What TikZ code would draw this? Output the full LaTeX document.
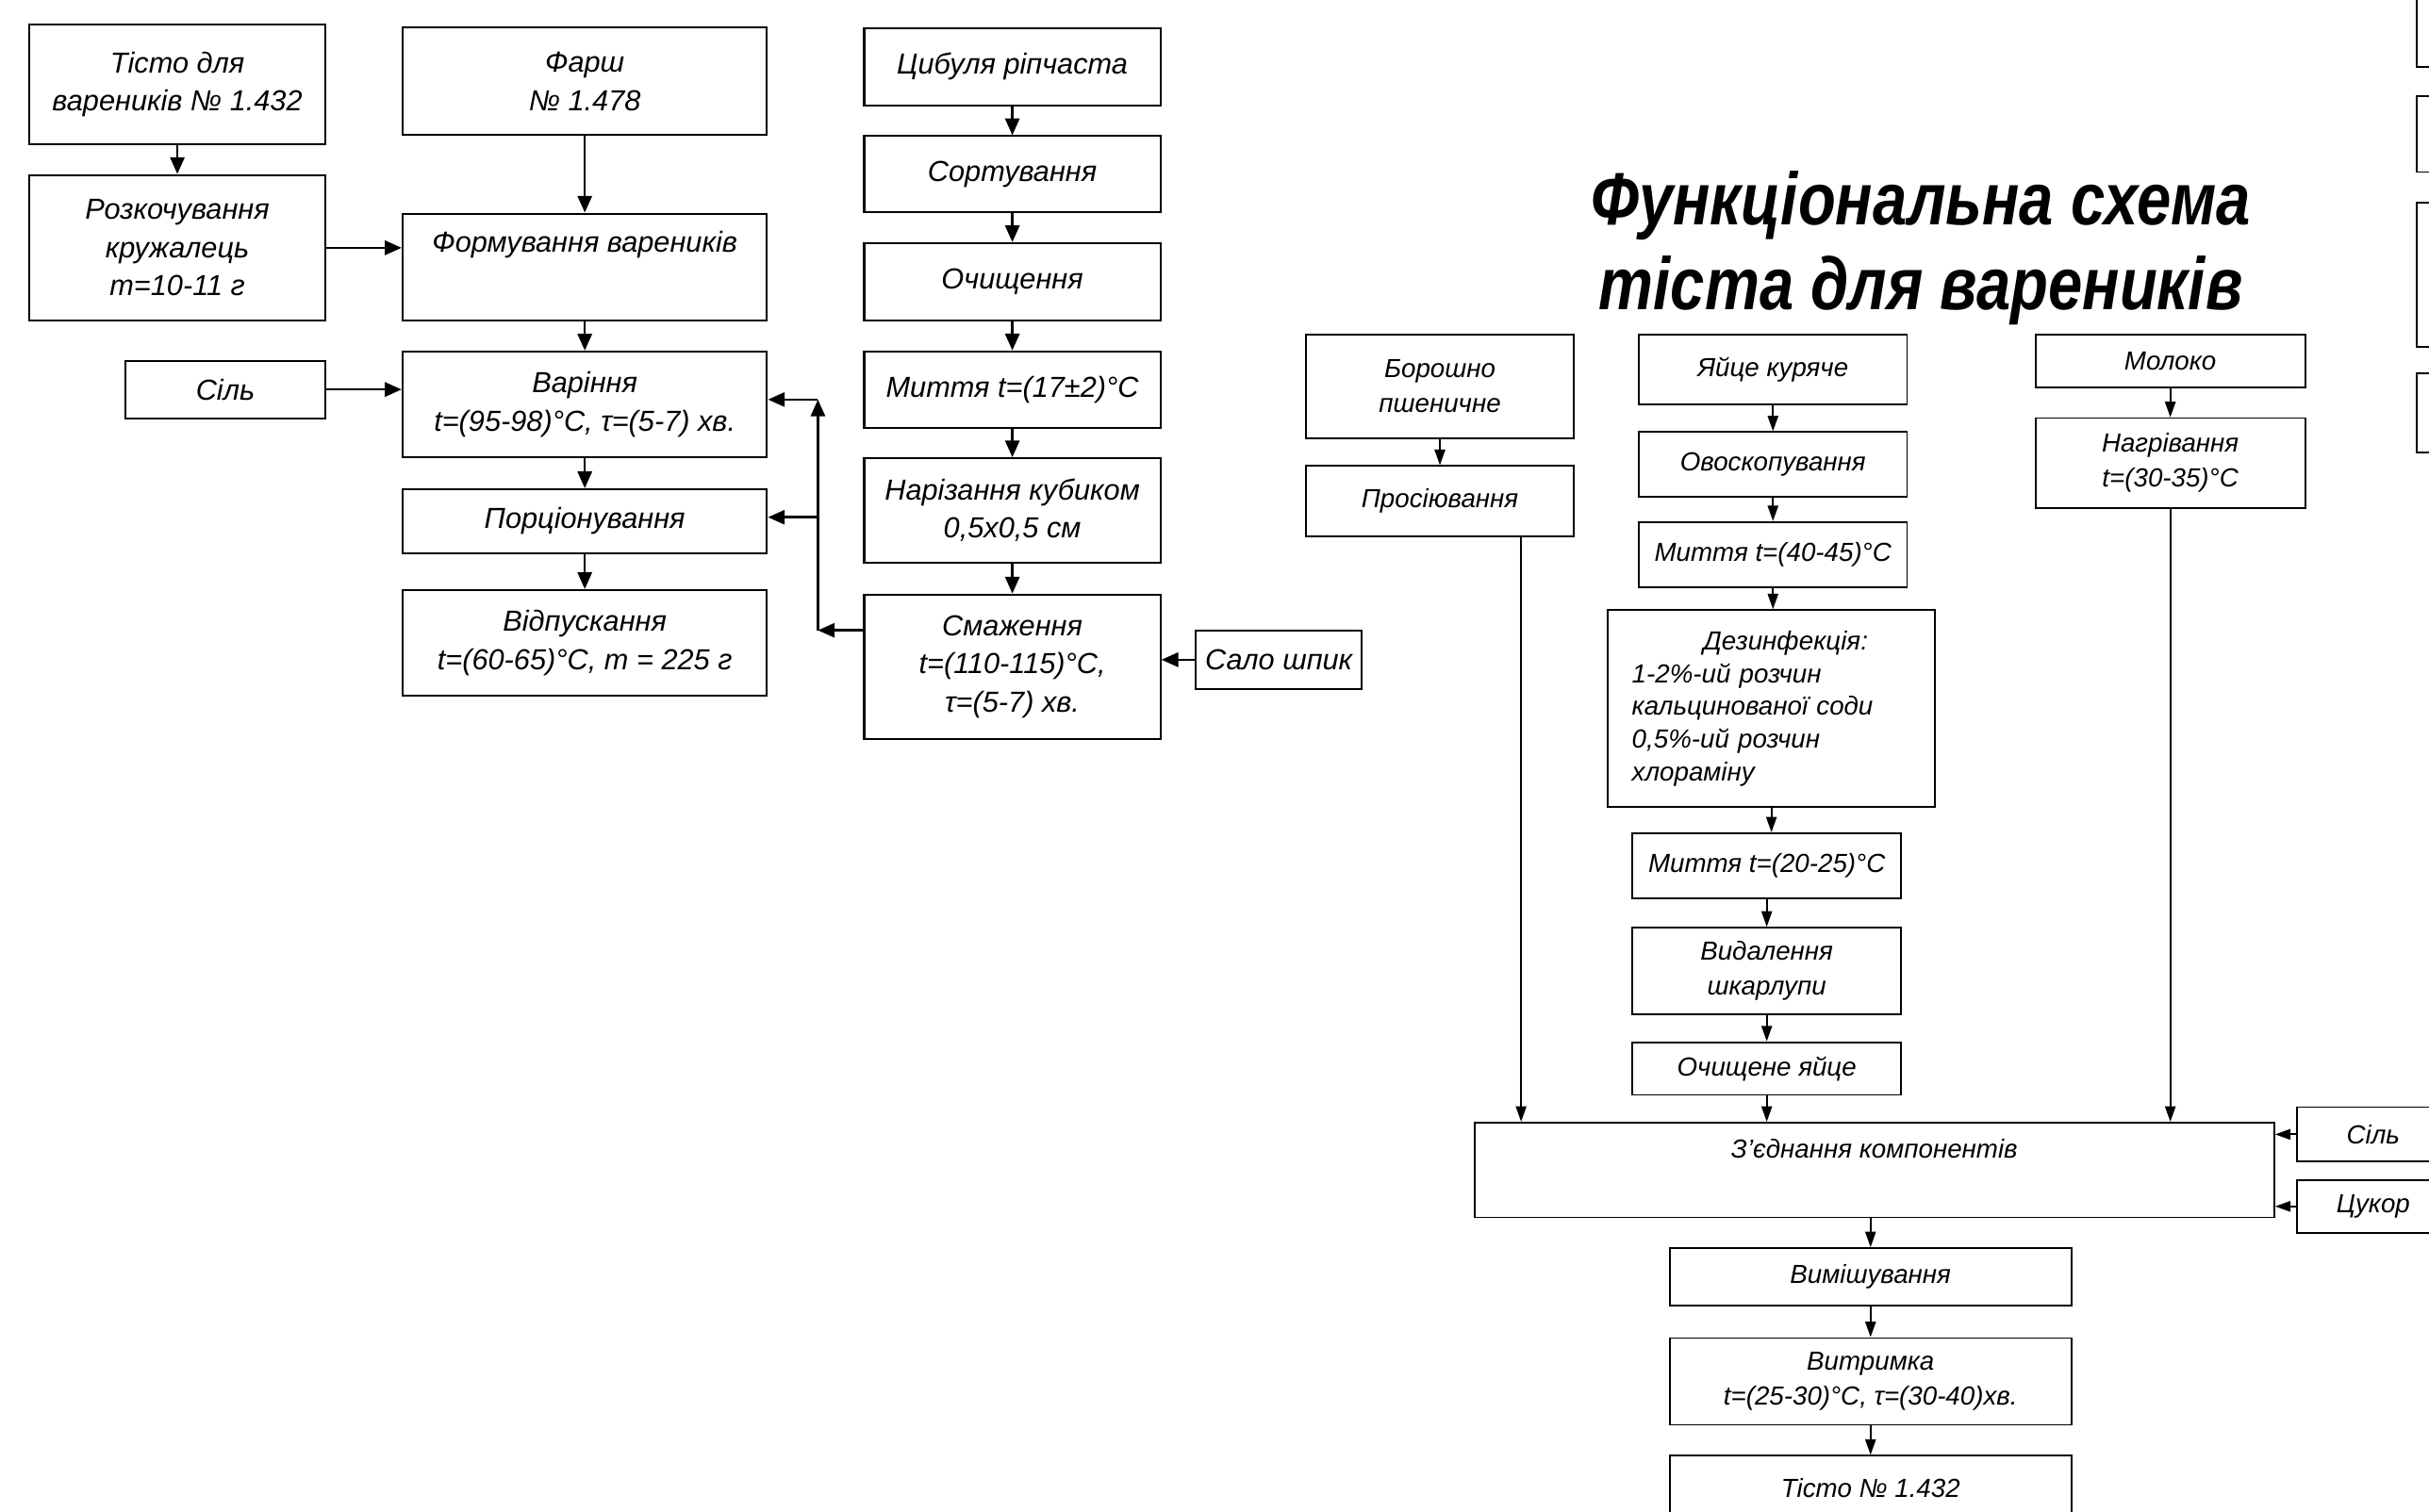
\documentclass[tikz,border=0pt]{standalone}
\usepackage{fontspec}
\setmainfont{Liberation Sans}
\newfontfamily\narrowfont{Liberation Sans}[FakeStretch=0.83]
\usetikzlibrary{arrows.meta}

\begin{document}
\begin{tikzpicture}[x=0.025cm, y=-0.025cm,
    box/.style={draw, line width=0.9pt, align=center, inner sep=2pt,
      font=\itshape\fontsize{13.3}{17.6}\selectfont},
    smallbox/.style={box, line width=0.8pt, font=\itshape\fontsize{12}{16}\selectfont},
    lift/.style={text depth=#1},
    arr/.style={line width=1.1pt, -{Triangle[length=0.27cm, width=0.23cm]}},
    arrs/.style={line width=0.8pt, -{Triangle[length=0.25cm, width=0.17cm]}}]
   \useasboundingbox (0,0) rectangle (1568,976);

   % filling
   \node[box, minimum width=4.78cm, minimum height=1.93cm] (tisto) at (114.5,54.5) {Тісто для\\вареників № 1.432};
   \node[box, minimum width=4.78cm, minimum height=2.35cm] (rozk) at (114.5,160) {Розкочування\\кружалець\\m=10-11 г};
   \node[box, minimum width=5.88cm, minimum height=1.73cm] (farsh) at (377.5,52.5) {Фарш\\№ 1.478};
   \node[box, minimum width=5.88cm, minimum height=1.73cm, lift=23pt] (form) at (377.5,172.5) {Формування вареників};
   \node[box, minimum width=3.23cm, minimum height=0.93cm] (sil1) at (145.5,251.5) {Сіль};
   \node[box, minimum width=5.88cm, minimum height=1.7cm] (var) at (377.5,261) {Варіння\\t=(95-98)°C, τ=(5-7) хв.};
   \node[box, minimum width=5.88cm, minimum height=1.03cm] (porc) at (377.5,336.5) {Порціонування};
   \node[box, minimum width=5.88cm, minimum height=1.7cm] (vidp) at (377.5,415) {Відпускання\\t=(60-65)°C, m = 225 г};

   \node[box, minimum width=4.78cm, minimum height=1.25cm] (cyb) at (653.5,43) {Цибуля ріпчаста};
   \node[box, minimum width=4.78cm, minimum height=1.23cm] (sort) at (653.5,112.5) {Сортування};
   \node[box, minimum width=4.78cm, minimum height=1.25cm] (ochy) at (653.5,182) {Очищення};
   \node[box, minimum width=4.78cm, minimum height=1.23cm] (mytt1) at (653.5,251.5) {Миття t=(17±2)°C};
   \node[box, minimum width=4.78cm, minimum height=1.68cm] (nariz) at (653.5,329.5) {Нарізання кубиком\\0,5х0,5 см};
   \node[box, minimum width=4.78cm, minimum height=2.33cm] (smazh) at (653.5,430.5) {Смаження\\t=(110-115)°C,\\τ=(5-7) хв.};
   \node[box, minimum width=2.68cm, minimum height=0.95cm] (salo) at (825.5,426) {Сало шпик};

   \draw[arr] (tisto) -- (rozk);
   \draw[arr] (rozk.east) -- (rozk.east -| form.west);
   \draw[arr] (farsh) -- (form);
   \draw[arr] (form) -- (var);
   \draw[arr] (var) -- (porc);
   \draw[arr] (porc) -- (vidp);
   \draw[arr] (sil1) -- (sil1 -| var.west);
   \draw[arr] (cyb) -- (sort);
   \draw[arr] (sort) -- (ochy);
   \draw[arr] (ochy) -- (mytt1);
   \draw[arr] (mytt1) -- (nariz);
   \draw[arr] (nariz) -- (smazh);
   \draw[arr] (salo) -- (salo -| smazh.east);

   \coordinate (jfry) at (528,407);
   \coordinate (jtop) at (528,258);
   \coordinate (jporc) at (528,334);
   \draw[arr] (smazh.west |- jfry) -- (jfry);
   \draw[arr] (jfry) -- (jtop);
   \draw[arr] (jtop) -- (var.east |- jtop);
   \draw[arr] (jporc) -- (porc.east |- jporc);

   % dough
   \node[font=\narrowfont\bfseries\itshape\fontsize{34}{39}\selectfont, align=center] (heading) at (1240,160) {Функціональна схема\\тіста для вареників};

   \node[smallbox, minimum width=4.33cm, minimum height=1.68cm] (bor) at (929.5,249.5) {Борошно\\пшеничне};
   \node[smallbox, minimum width=4.33cm, minimum height=1.13cm] (pros) at (929.5,323.5) {Просіювання};
   \node[smallbox, minimum width=4.33cm, minimum height=1.13cm] (yaitse) at (1144.5,238.5) {Яйце куряче};
   \node[smallbox, minimum width=4.33cm, minimum height=1.05cm] (ovos) at (1144.5,300) {Овоскопування};
   \node[smallbox, minimum width=4.33cm, minimum height=1.05cm] (mytt2) at (1144.5,358) {Миття t=(40-45)°C};
   \node[smallbox, minimum width=5.28cm, minimum height=3.18cm, text width=4.5cm, align=left,
     font=\itshape\fontsize{12}{15}\selectfont] (dez) at (1143.5,457.5)
     {\hspace*{1.15cm}Дезинфекція:\\1-2\%-ий розчин\\кальцинованої соди\\0,5\%-ий розчин\\хлораміну};
   \node[smallbox, minimum width=4.33cm, minimum height=1.05cm] (mytt3) at (1140.5,559) {Миття t=(20-25)°C};
   \node[smallbox, minimum width=4.33cm, minimum height=1.4cm] (vyd) at (1140.5,627) {Видалення\\шкарлупи};
   \node[smallbox, minimum width=4.33cm, minimum height=0.85cm] (ochyay) at (1140.5,690) {Очищене яйце};
   \node[smallbox, minimum width=4.35cm, minimum height=0.85cm] (moloko) at (1401,233) {Молоко};
   \node[smallbox, minimum width=4.35cm, minimum height=1.45cm] (nagr) at (1401,299) {Нагрівання\\t=(30-35)°C};
   \node[smallbox, minimum width=12.9cm, minimum height=1.53cm, lift=20pt] (zyedn) at (1210,755.5) {З’єднання компонентів};
   \node[smallbox, minimum width=2.45cm, minimum height=0.88cm] (sil2) at (1532,732.5) {Сіль};
   \node[smallbox, minimum width=2.45cm, minimum height=0.85cm] (cukor) at (1532,779) {Цукор};
   \node[smallbox, minimum width=6.48cm, minimum height=0.93cm] (vymish) at (1207.5,824.5) {Вимішування};
   \node[smallbox, minimum width=6.48cm, minimum height=1.4cm] (vytr) at (1207.5,892) {Витримка\\t=(25-30)°C, τ=(30-40)хв.};
   \node[smallbox, minimum width=6.48cm, minimum height=1.05cm] (tisto2) at (1207.5,961) {Тісто № 1.432};

   % edge of the next sheet
   \node[smallbox, minimum width=1.25cm, minimum height=1.33cm] (r1) at (1585,16.5) {};
   \node[smallbox, minimum width=1.25cm, minimum height=1.23cm] (r2) at (1585,86.5) {};
   \node[smallbox, minimum width=1.25cm, minimum height=2.33cm] (r3) at (1585,177.5) {};
   \node[smallbox, minimum width=1.25cm, minimum height=1.28cm] (r4) at (1585,266.5) {};

   \coordinate (prosout) at ([xshift=1.31cm]pros.south);
   \draw[arrs] (bor) -- (pros);
   \draw[arrs] (prosout) -- (prosout |- zyedn.north);
   \draw[arrs] (yaitse) -- (ovos);
   \draw[arrs] (ovos) -- (mytt2);
   \draw[arrs] (mytt2.south) -- (mytt2.south |- dez.north);
   \draw[arrs] (dez.south) -- (dez.south |- mytt3.north);
   \draw[arrs] (mytt3) -- (vyd);
   \draw[arrs] (vyd) -- (ochyay);
   \draw[arrs] (ochyay.south) -- (ochyay.south |- zyedn.north);
   \draw[arrs] (moloko) -- (nagr);
   \draw[arrs] (nagr.south) -- (nagr.south |- zyedn.north);
   \draw[arrs] (sil2) -- (sil2 -| zyedn.east);
   \draw[arrs] (cukor) -- (cukor -| zyedn.east);
   \draw[arrs] (vymish.north |- zyedn.south) -- (vymish.north);
   \draw[arrs] (vymish) -- (vytr);
   \draw[arrs] (vytr) -- (tisto2);
\end{tikzpicture}
\end{document}
